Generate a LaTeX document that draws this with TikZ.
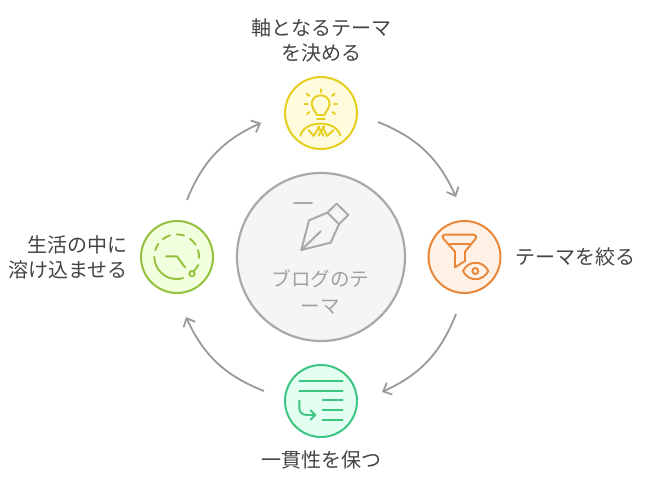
\documentclass[tikz,border=0pt]{standalone}
\usepackage{fontspec}
\setmainfont{Noto Sans CJK JP}
\usetikzlibrary{arrows.meta}
\definecolor{txt}{HTML}{444444}
\definecolor{arc}{HTML}{9A9A9A}
\definecolor{yl}{HTML}{E6CE1E}\definecolor{ylf}{HTML}{FFFBDD}
\definecolor{og}{HTML}{E8873A}\definecolor{ogf}{HTML}{FFF1E5}
\definecolor{gn}{HTML}{3CC583}\definecolor{gnf}{HTML}{E3FFF1}
\definecolor{lm}{HTML}{93C13E}\definecolor{lmf}{HTML}{F2FFDE}
\definecolor{gy}{HTML}{A9A9A9}\definecolor{gyf}{HTML}{F5F5F5}
\tikzset{
  stagecircle/.style={circle,draw,line width=2pt,minimum size=72pt,inner sep=0pt},
  hubcircle/.style={circle,draw=gy,fill=gyf,line width=2.2pt,minimum size=168pt,inner sep=0pt},
  lbl/.style={text=txt,font=\fontsize{20}{25}\selectfont,align=center,inner sep=0pt},
  cycle/.style={draw=arc,line width=1.8pt,-{Straight Barb[length=7pt,width=13pt,line width=1.8pt]}},
  ico/.style={line width=1.9pt,line cap=round,line join=round}
}
\newcommand{\dashseg}[2]{\draw ({146+67*cos(#1)},{146+67*sin(#1)}) arc[start angle=#1,end angle=#2,radius=67];}
\begin{document}
\begin{tikzpicture}[x=1pt,y=-1pt]
\useasboundingbox (0,0) rectangle (648,489);
\fill[white] (0,0) rectangle (648,489);
% hub
\node[hubcircle] (hub) at (321,257) {};
\node[lbl,text=gy!95!black,font=\fontsize{19.6}{27}\selectfont] (hubt) at (320.5,292) {ブログのテ\\ーマ};
% stages
\node[stagecircle,draw=yl,fill=ylf] (top) at (321,113) {};
\node[stagecircle,draw=og,fill=ogf] (right) at (464.5,257) {};
\node[stagecircle,draw=gn,fill=gnf] (bottom) at (321,401) {};
\node[stagecircle,draw=lm,fill=lmf] (left) at (177,257) {};
% labels
\node[lbl] (ltop) at (321.5,40) {軸となるテーマ\\を決める};
\node[lbl,anchor=west] (lright) at (515,257) {テーマを絞る};
\node[lbl] (lbottom) at (321,460) {一貫性を保つ};
\node[lbl,align=right,anchor=east] (lleft) at (128,257) {生活の中に\\溶け込ませる};
% connectors
\coordinate (a1s) at (378,122);\coordinate (a1e) at (456,197);
\coordinate (a2s) at (456,314);\coordinate (a2e) at (382,392);
\coordinate (a3s) at (264,391);\coordinate (a3e) at (186,317);
\coordinate (a4s) at (187,200);\coordinate (a4e) at (261,123);
\draw[cycle] (a1s) to[bend left=22] (a1e);
\draw[cycle] (a2s) to[bend left=22] (a2e);
\draw[cycle] (a3s) to[bend left=22] (a3e);
\draw[cycle] (a4s) to[bend left=22] (a4e);
% hub icon
\begin{scope}[shift={(270,185)},x=0.3333pt,y=-0.3333pt,ico,draw=gy,line width=2pt]
\draw (72,54) -- (126,54);
\draw (94,195) -- (117,106) -- (172,83) -- (207,118) -- (182,173) -- cycle;
\draw (172,83) -- (200,56) -- (235,90) -- (207,118);
\draw (94,195) -- (152,139);
\end{scope}
% top icon
\begin{scope}[shift={(270,65)},x=0.3333pt,y=-0.3333pt,ico,draw=yl]
\draw (141,150) .. controls (134,134) and (125,130) .. (125,118) .. controls (125,82) and (179,82) .. (179,118) .. controls (179,130) and (170,134) .. (163,150) -- cycle;
\draw (141,163) -- (164,163);
\foreach \a/\b/\c/\d in {152/73/152/82, 110/86/118/93, 194/86/186/93, 104/117/113/117, 201/117/192/117, 111/147/118/141, 195/147/187/141}
  \draw (\a,\b) -- (\c,\d);
\draw (91,212) .. controls (96,190) and (122,176) .. (152,176) .. controls (182,176) and (206,190) .. (211,212);
\draw (116,195) -- (131,213) -- (148,185);
\draw (191,195) -- (171,213) -- (158,185);
\draw (144,185) -- (153,198) -- (163,185);
\draw (146,212) -- (153,198) -- (160,212);
\end{scope}
% right icon
\begin{scope}[shift={(415,210)},x=0.3333pt,y=-0.3333pt,ico,draw=og]
\draw (90,74) -- (176,74) .. controls (184,74) and (186,80) .. (182,86) -- (150,125) -- (150,153) -- (120,172) -- (120,125) -- (85,86) .. controls (80,80) and (82,74) .. (90,74) -- cycle;
\draw (104,102) -- (164,102);
\draw (144,183) .. controls (160,150) and (203,150) .. (220,183) .. controls (203,216) and (160,216) .. (144,183) -- cycle;
\draw (181,183) circle[radius=9];
\end{scope}
% bottom icon
\begin{scope}[shift={(270,355)},x=0.3333pt,y=-0.3333pt,ico,draw=gn]
\draw (88,78) -- (218,78);
\draw (88,107) -- (218,107);
\draw (158,135) -- (218,135);
\draw (158,165) -- (218,165);
\draw (158,194) -- (218,194);
\draw (88,137) -- (88,160) .. controls (88,172) and (98,180) .. (110,180) -- (136,180);
\draw (122,166) -- (136,180) -- (122,194);
\end{scope}
% left icon
\begin{scope}[shift={(128,208)},x=0.3333pt,y=-0.3333pt,ico,draw=lm]
\draw (114,145) -- (147,145) -- (171,178);
\draw (192,197) circle[radius=8];
\draw (198,190) -- (211,171);
\dashseg{73}{180}
\dashseg{197}{215}
\dashseg{232}{253}
\dashseg{270}{289}
\dashseg{307}{328}
\dashseg{343}{363}
\end{scope}
\end{tikzpicture}
\end{document}
